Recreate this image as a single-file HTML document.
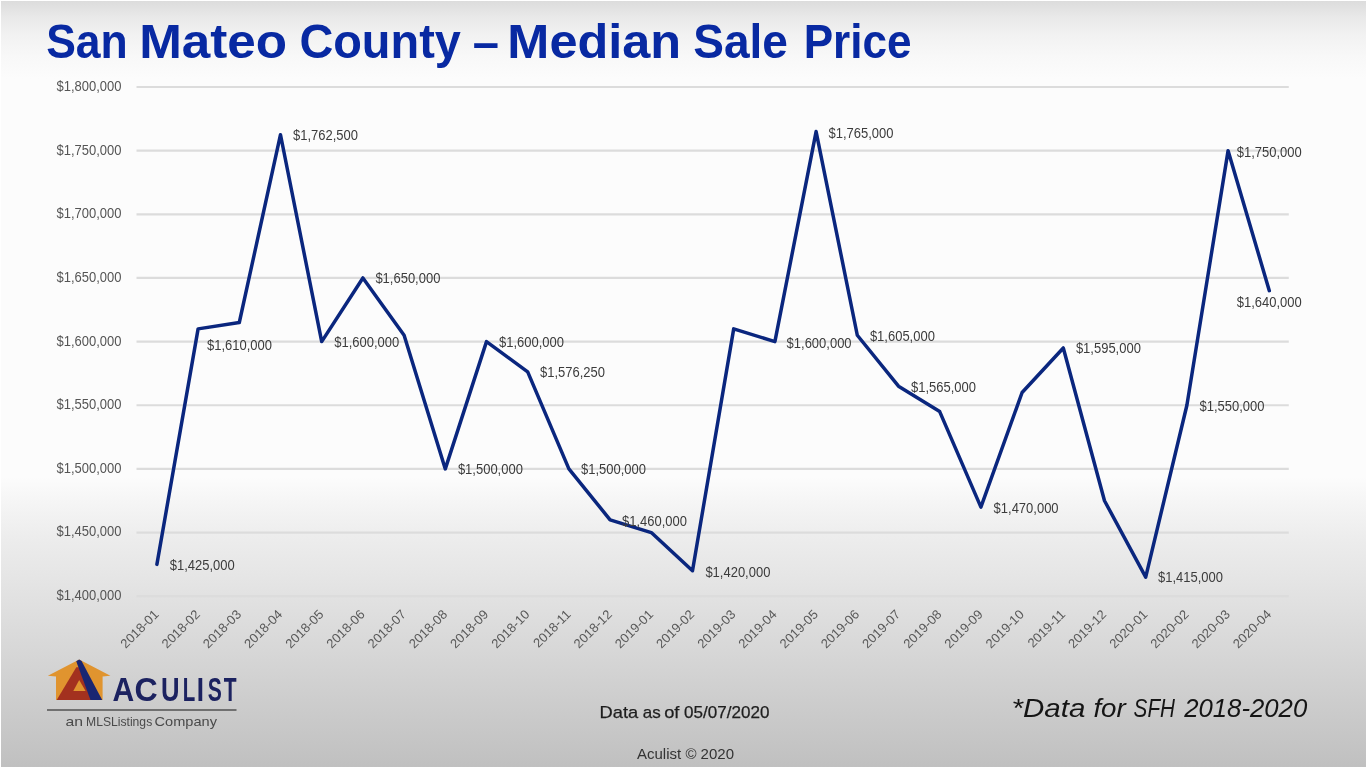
<!DOCTYPE html>
<html><head><meta charset="utf-8"><title>San Mateo County – Median Sale Price</title>
<style>
html,body{margin:0;padding:0;}
body{width:1367px;height:768px;overflow:hidden;position:relative;background:#fff;font-family:"Liberation Sans",Arial,sans-serif;}
#bg{position:absolute;left:1px;top:1px;width:1365px;height:766px;
background:linear-gradient(to bottom,#dcdcdc 0px,#e8e8e8 15px,#f2f2f2 35px,#f8f8f8 55px,#fcfcfc 78px,#fcfcfc 476px,#f6f6f6 498px,#ededed 535px,#e5e5e5 578px,#d9d9d9 640px,#cdcdcd 700px,#c0c0c0 766px);}
svg{position:absolute;left:0;top:0;}
.t{font-family:"Liberation Sans",Arial,sans-serif;font-weight:bold;font-size:49px;fill:#0829a2;}
.g{stroke:#dcdcdc;stroke-width:2.2;}
.yl{font-family:"Liberation Sans",Arial,sans-serif;font-size:14px;fill:#555;text-anchor:end;}
.dl{font-family:"Liberation Sans",Arial,sans-serif;font-size:14px;fill:#3c3c3c;}
.xl{font-family:"Liberation Sans",Arial,sans-serif;font-size:13px;fill:#595959;text-anchor:end;}
.ln{fill:none;stroke:#0a267e;stroke-width:3.5;stroke-linejoin:round;stroke-linecap:round;}
.foot1{font-family:"Liberation Sans",Arial,sans-serif;font-size:16.6px;fill:#1e1e1e;stroke:#1e1e1e;stroke-width:0.25px;}
.foot2{font-family:"Liberation Sans",Arial,sans-serif;font-size:15px;fill:#333;}
.note{font-family:"Liberation Sans",Arial,sans-serif;font-size:26.5px;font-style:italic;fill:#151515;}
.brand{font-family:"Liberation Sans",Arial,sans-serif;font-size:33px;font-weight:bold;fill:#1c2260;}
.sub{font-family:"Liberation Sans",Arial,sans-serif;font-size:13px;fill:#4a4a4a;}

</style></head><body>
<div id="bg"></div>
<svg width="1367" height="768" viewBox="0 0 1367 768">
<line x1="136.5" y1="87.00" x2="1288.8" y2="87.00" class="g"/>
<line x1="136.5" y1="150.65" x2="1288.8" y2="150.65" class="g"/>
<line x1="136.5" y1="214.30" x2="1288.8" y2="214.30" class="g"/>
<line x1="136.5" y1="277.95" x2="1288.8" y2="277.95" class="g"/>
<line x1="136.5" y1="341.60" x2="1288.8" y2="341.60" class="g"/>
<line x1="136.5" y1="405.25" x2="1288.8" y2="405.25" class="g"/>
<line x1="136.5" y1="468.90" x2="1288.8" y2="468.90" class="g"/>
<line x1="136.5" y1="532.55" x2="1288.8" y2="532.55" class="g"/>
<line x1="136.5" y1="596.20" x2="1288.8" y2="596.20" class="g"/>
<text x="121.5" y="90.90" class="yl" textLength="65" lengthAdjust="spacingAndGlyphs">$1,800,000</text>
<text x="121.5" y="154.55" class="yl" textLength="65" lengthAdjust="spacingAndGlyphs">$1,750,000</text>
<text x="121.5" y="218.20" class="yl" textLength="65" lengthAdjust="spacingAndGlyphs">$1,700,000</text>
<text x="121.5" y="281.85" class="yl" textLength="65" lengthAdjust="spacingAndGlyphs">$1,650,000</text>
<text x="121.5" y="345.50" class="yl" textLength="65" lengthAdjust="spacingAndGlyphs">$1,600,000</text>
<text x="121.5" y="409.15" class="yl" textLength="65" lengthAdjust="spacingAndGlyphs">$1,550,000</text>
<text x="121.5" y="472.80" class="yl" textLength="65" lengthAdjust="spacingAndGlyphs">$1,500,000</text>
<text x="121.5" y="536.45" class="yl" textLength="65" lengthAdjust="spacingAndGlyphs">$1,450,000</text>
<text x="121.5" y="600.10" class="yl" textLength="65" lengthAdjust="spacingAndGlyphs">$1,400,000</text>
<polyline points="156.90,564.38 198.10,328.87 239.30,322.50 280.50,134.74 321.70,341.60 362.90,277.95 404.10,335.24 445.30,468.90 486.50,341.60 527.70,371.83 568.90,468.90 610.10,519.82 651.30,532.55 692.50,570.74 733.70,328.87 774.90,341.60 816.10,131.56 857.30,335.24 898.50,386.16 939.70,411.61 980.90,507.09 1022.10,392.52 1063.30,347.96 1104.50,500.72 1145.70,577.11 1186.90,405.25 1228.10,150.65 1269.30,290.68" class="ln"/>
<text x="169.80" y="570.40" class="dl" textLength="65" lengthAdjust="spacingAndGlyphs">$1,425,000</text>
<text x="207.00" y="349.80" class="dl" textLength="65" lengthAdjust="spacingAndGlyphs">$1,610,000</text>
<text x="293.00" y="140.00" class="dl" textLength="65" lengthAdjust="spacingAndGlyphs">$1,762,500</text>
<text x="334.30" y="347.30" class="dl" textLength="65" lengthAdjust="spacingAndGlyphs">$1,600,000</text>
<text x="375.40" y="283.40" class="dl" textLength="65" lengthAdjust="spacingAndGlyphs">$1,650,000</text>
<text x="457.90" y="474.10" class="dl" textLength="65" lengthAdjust="spacingAndGlyphs">$1,500,000</text>
<text x="499.00" y="347.30" class="dl" textLength="65" lengthAdjust="spacingAndGlyphs">$1,600,000</text>
<text x="540.00" y="377.40" class="dl" textLength="65" lengthAdjust="spacingAndGlyphs">$1,576,250</text>
<text x="581.00" y="474.10" class="dl" textLength="65" lengthAdjust="spacingAndGlyphs">$1,500,000</text>
<text x="622.00" y="525.50" class="dl" textLength="65" lengthAdjust="spacingAndGlyphs">$1,460,000</text>
<text x="705.40" y="576.50" class="dl" textLength="65" lengthAdjust="spacingAndGlyphs">$1,420,000</text>
<text x="786.60" y="347.80" class="dl" textLength="65" lengthAdjust="spacingAndGlyphs">$1,600,000</text>
<text x="828.50" y="137.70" class="dl" textLength="65" lengthAdjust="spacingAndGlyphs">$1,765,000</text>
<text x="869.90" y="341.40" class="dl" textLength="65" lengthAdjust="spacingAndGlyphs">$1,605,000</text>
<text x="911.00" y="391.80" class="dl" textLength="65" lengthAdjust="spacingAndGlyphs">$1,565,000</text>
<text x="993.60" y="512.50" class="dl" textLength="65" lengthAdjust="spacingAndGlyphs">$1,470,000</text>
<text x="1075.90" y="353.20" class="dl" textLength="65" lengthAdjust="spacingAndGlyphs">$1,595,000</text>
<text x="1158.00" y="581.80" class="dl" textLength="65" lengthAdjust="spacingAndGlyphs">$1,415,000</text>
<text x="1199.50" y="411.20" class="dl" textLength="65" lengthAdjust="spacingAndGlyphs">$1,550,000</text>
<text x="1236.70" y="156.60" class="dl" textLength="65" lengthAdjust="spacingAndGlyphs">$1,750,000</text>
<text x="1236.70" y="307.10" class="dl" textLength="65" lengthAdjust="spacingAndGlyphs">$1,640,000</text>
<text transform="translate(159.60,615.20) rotate(-45)" class="xl">2018-01</text>
<text transform="translate(200.80,615.20) rotate(-45)" class="xl">2018-02</text>
<text transform="translate(242.00,615.20) rotate(-45)" class="xl">2018-03</text>
<text transform="translate(283.20,615.20) rotate(-45)" class="xl">2018-04</text>
<text transform="translate(324.40,615.20) rotate(-45)" class="xl">2018-05</text>
<text transform="translate(365.60,615.20) rotate(-45)" class="xl">2018-06</text>
<text transform="translate(406.80,615.20) rotate(-45)" class="xl">2018-07</text>
<text transform="translate(448.00,615.20) rotate(-45)" class="xl">2018-08</text>
<text transform="translate(489.20,615.20) rotate(-45)" class="xl">2018-09</text>
<text transform="translate(530.40,615.20) rotate(-45)" class="xl">2018-10</text>
<text transform="translate(571.60,615.20) rotate(-45)" class="xl">2018-11</text>
<text transform="translate(612.80,615.20) rotate(-45)" class="xl">2018-12</text>
<text transform="translate(654.00,615.20) rotate(-45)" class="xl">2019-01</text>
<text transform="translate(695.20,615.20) rotate(-45)" class="xl">2019-02</text>
<text transform="translate(736.40,615.20) rotate(-45)" class="xl">2019-03</text>
<text transform="translate(777.60,615.20) rotate(-45)" class="xl">2019-04</text>
<text transform="translate(818.80,615.20) rotate(-45)" class="xl">2019-05</text>
<text transform="translate(860.00,615.20) rotate(-45)" class="xl">2019-06</text>
<text transform="translate(901.20,615.20) rotate(-45)" class="xl">2019-07</text>
<text transform="translate(942.40,615.20) rotate(-45)" class="xl">2019-08</text>
<text transform="translate(983.60,615.20) rotate(-45)" class="xl">2019-09</text>
<text transform="translate(1024.80,615.20) rotate(-45)" class="xl">2019-10</text>
<text transform="translate(1066.00,615.20) rotate(-45)" class="xl">2019-11</text>
<text transform="translate(1107.20,615.20) rotate(-45)" class="xl">2019-12</text>
<text transform="translate(1148.40,615.20) rotate(-45)" class="xl">2020-01</text>
<text transform="translate(1189.60,615.20) rotate(-45)" class="xl">2020-02</text>
<text transform="translate(1230.80,615.20) rotate(-45)" class="xl">2020-03</text>
<text transform="translate(1272.00,615.20) rotate(-45)" class="xl">2020-04</text>
<text x="46.17" y="58.3" class="t" textLength="81.62" lengthAdjust="spacingAndGlyphs">San</text>
<text x="139.16" y="58.3" class="t" textLength="148.0" lengthAdjust="spacingAndGlyphs">Mateo</text>
<text x="299.39" y="58.3" class="t" textLength="161.43" lengthAdjust="spacingAndGlyphs">County</text>
<text x="472.63" y="59.0" class="t" textLength="26.22" lengthAdjust="spacingAndGlyphs">–</text>
<text x="507.38" y="58.3" class="t" textLength="173.74" lengthAdjust="spacingAndGlyphs">Median</text>
<text x="693.22" y="58.3" class="t" textLength="94.67" lengthAdjust="spacingAndGlyphs">Sale</text>
<text x="803.63" y="58.3" class="t" textLength="107.86" lengthAdjust="spacingAndGlyphs">Price</text>
<g>
<polygon points="79.2,659.6 110.4,675.8 102.6,676.6 102.6,700 56,700 56,676.6 47.9,675.8" fill="#e0942f"/>
<polygon points="56.7,700 76.3,667.2 79.5,667.2 95,700" fill="#a3311f"/>
<polygon points="79.2,680.1 73.3,691.1 85.6,691.1" fill="#e0942f"/>
<polygon points="76.2,661.2 79.2,659.6 81.6,660.9 102.2,700 90.5,700" fill="#1a2672"/>
</g>
<g id="brand">
<text x="112.50" y="701.3" class="brand" textLength="21.70" lengthAdjust="spacingAndGlyphs">A</text>
<text x="134.48" y="701.3" class="brand" textLength="23.21" lengthAdjust="spacingAndGlyphs">C</text>
<text x="161.05" y="701.3" class="brand" textLength="18.55" lengthAdjust="spacingAndGlyphs">U</text>
<text x="182.79" y="701.3" class="brand" textLength="12.51" lengthAdjust="spacingAndGlyphs">L</text>
<text x="196.66" y="701.3" class="brand" textLength="7.23" lengthAdjust="spacingAndGlyphs">I</text>
<text x="207.85" y="701.3" class="brand" textLength="14.08" lengthAdjust="spacingAndGlyphs">S</text>
<text x="223.79" y="701.3" class="brand" textLength="12.82" lengthAdjust="spacingAndGlyphs">T</text>
</g>
<rect x="47" y="709" width="189.5" height="2" fill="#707070"/>
<g id="sub">
<text x="65.52" y="726" class="sub" textLength="17.53" lengthAdjust="spacingAndGlyphs">an</text>
<text x="86.07" y="726" class="sub" textLength="66.14" lengthAdjust="spacingAndGlyphs">MLSListings</text>
<text x="154.6" y="726" class="sub" textLength="62.4" lengthAdjust="spacingAndGlyphs">Company</text>
</g>
<g id="foot1">
<text x="599.54" y="718.3" class="foot1" textLength="38.66" lengthAdjust="spacingAndGlyphs">Data</text>
<text x="642.89" y="718.3" class="foot1" textLength="17.94" lengthAdjust="spacingAndGlyphs">as</text>
<text x="664.19" y="718.3" class="foot1" textLength="15.23" lengthAdjust="spacingAndGlyphs">of</text>
<text x="683.99" y="718.3" class="foot1" textLength="85.42" lengthAdjust="spacingAndGlyphs">05/07/2020</text>
</g>
<text x="637" y="759.2" class="foot2" textLength="97" lengthAdjust="spacingAndGlyphs">Aculist © 2020</text>
<g id="note">
<text x="1011.52" y="716.5" class="note" textLength="73.90" lengthAdjust="spacingAndGlyphs">*Data</text>
<text x="1093.40" y="716.5" class="note" textLength="32.41" lengthAdjust="spacingAndGlyphs">for</text>
<text x="1133.59" y="716.5" class="note" textLength="41.41" lengthAdjust="spacingAndGlyphs">SFH</text>
<text x="1184.19" y="716.5" class="note" textLength="123.01" lengthAdjust="spacingAndGlyphs">2018-2020</text>
</g>
</svg>

</body></html>
